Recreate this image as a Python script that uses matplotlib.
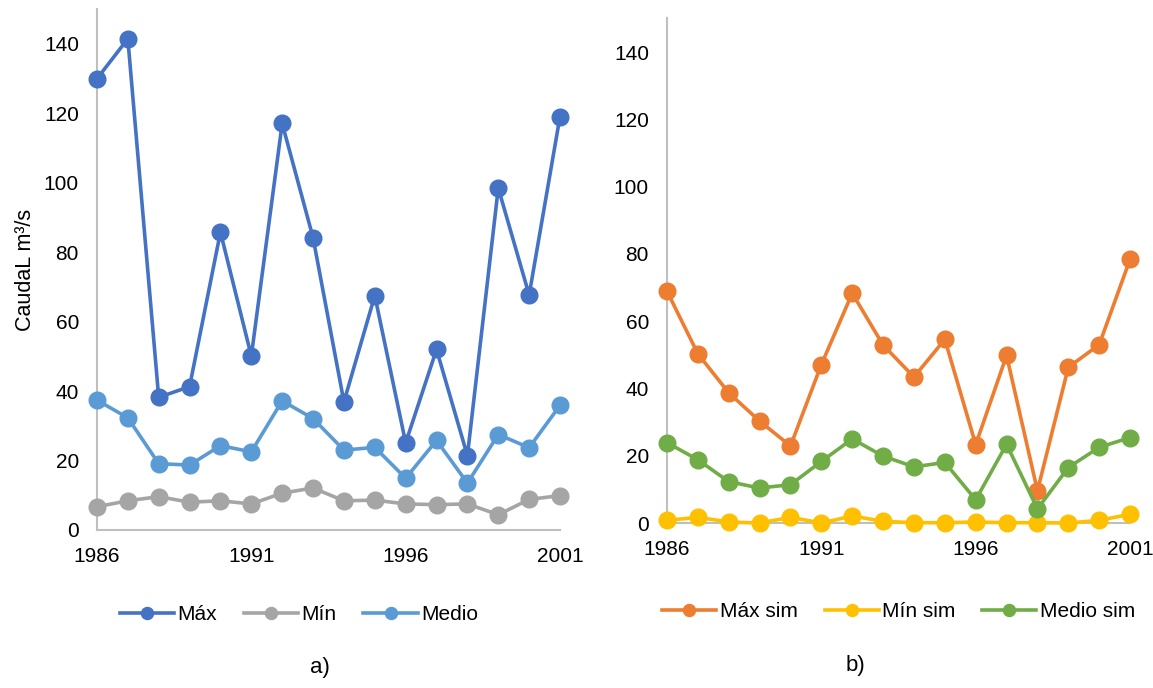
import matplotlib
matplotlib.use("Agg")
import matplotlib.pyplot as plt

plt.rcParams['font.family'] = ['Liberation Sans', 'DejaVu Sans']

years = list(range(1986, 2002))
xticks = [1986, 1991, 1996, 2001]
yticks = [0, 20, 40, 60, 80, 100, 120, 140]

maxv = [130.0, 141.5, 38.2, 41.3, 85.8, 50.1, 117.1, 84.2, 36.9, 67.5, 25.1, 52.0, 21.4, 98.5, 67.7, 119.1]
minv = [6.7, 8.4, 9.6, 8.0, 8.4, 7.5, 10.6, 12.1, 8.4, 8.6, 7.5, 7.3, 7.5, 4.4, 8.8, 9.9]
medv = [37.4, 32.3, 19.1, 18.7, 24.3, 22.5, 37.2, 32.1, 23.0, 23.8, 14.9, 25.8, 13.5, 27.5, 23.7, 35.9]

maxs = [68.9, 50.3, 38.7, 30.3, 22.9, 47.1, 68.3, 52.9, 43.4, 54.6, 23.3, 49.8, 9.6, 46.3, 53.0, 78.4]
mins = [0.8, 1.7, 0.3, 0.0, 1.7, 0.0, 2.1, 0.5, 0.1, 0.1, 0.3, 0.1, 0.1, 0.0, 0.8, 2.6]
meds = [23.9, 18.8, 12.3, 10.4, 11.4, 18.3, 25.0, 19.9, 16.7, 18.0, 6.9, 23.4, 4.2, 16.5, 22.5, 25.4]

left_series = [("Máx", maxv, "#4472C4"), ("Mín", minv, "#A5A5A5"), ("Medio", medv, "#5B9BD5")]
right_series = [("Máx sim", maxs, "#ED7D31"), ("Mín sim", mins, "#FFC000"), ("Medio sim", meds, "#70AD47")]

fig = plt.figure(figsize=(11.53, 6.88), dpi=100)
ax1 = fig.add_axes([0.0841, 0.2297, 0.4016, 0.7568])
ax2 = fig.add_axes([0.5785, 0.2398, 0.4016, 0.7334])

def style(ax, series):
    for name, vals, col in series:
        ax.plot(years, vals, color=col, lw=2.6, marker='o', ms=12, label=name, clip_on=False, zorder=3)
    ax.set_xlim(1986, 2001)
    ax.set_ylim(0, 150)
    ax.set_xticks(xticks)
    ax.set_yticks(yticks)
    for s in ['top', 'right']:
        ax.spines[s].set_visible(False)
    for s in ['left', 'bottom']:
        ax.spines[s].set_color('#BFBFBF')
        ax.spines[s].set_linewidth(1.5)
    ax.tick_params(length=0, labelsize=15, colors='black')
    ax.tick_params(axis='y', pad=13)
    ax.tick_params(axis='x', pad=12)

style(ax1, left_series)
style(ax2, right_series)
ax1.set_ylabel("CaudaL m³/s", fontsize=15.5)
ax1.yaxis.set_label_coords(-0.132, 0.5)

ax1.legend(loc='center', bbox_to_anchor=(0.436, -0.162), ncol=3, frameon=False, fontsize=15,
           handlelength=2.6, columnspacing=1.3, handletextpad=0.15, markerscale=0.72)
ax2.legend(loc='center', bbox_to_anchor=(0.5, -0.176), ncol=3, frameon=False, fontsize=15,
           handlelength=2.6, columnspacing=1.3, handletextpad=0.15, markerscale=0.72)

fig.text(320/1153, 1-668/688, "a)", fontsize=16, ha='center', va='center')
fig.text(855/1153, 1-665/688, "b)", fontsize=16, ha='center', va='center')

fig.savefig("out.png", dpi=100)
